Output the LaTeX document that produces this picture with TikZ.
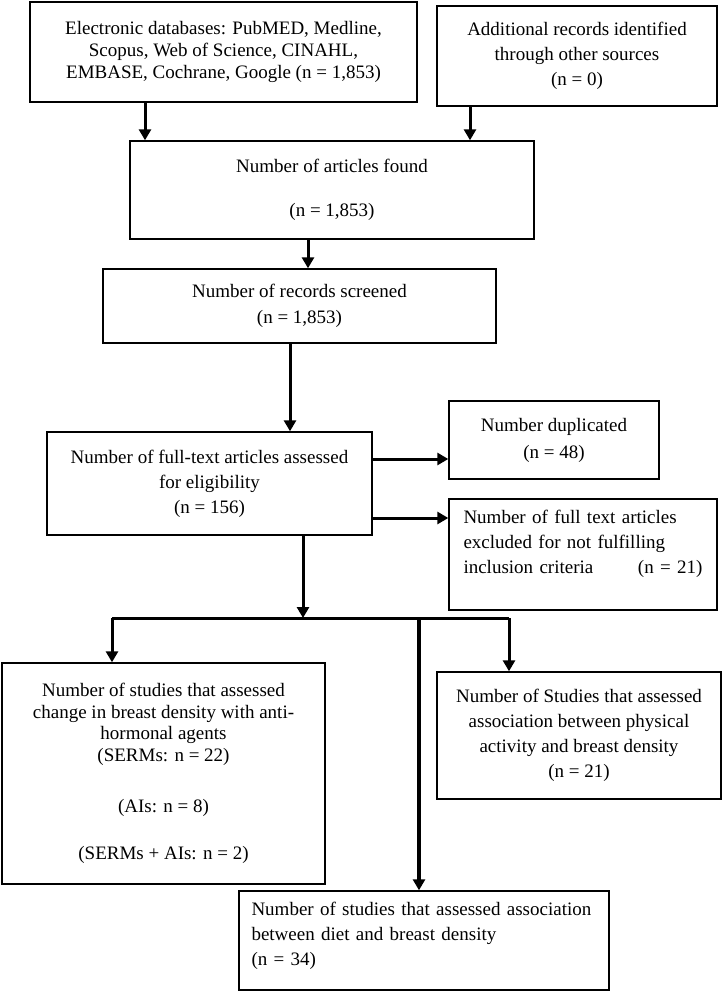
\documentclass[tikz,border=0pt]{standalone}
\usepackage{fontspec}
\setmainfont{Liberation Serif}
\usetikzlibrary{arrows.meta}
\begin{document}
\begin{tikzpicture}[x=1pt,y=-1pt,
    box/.style={draw,line width=1.4pt,inner sep=0pt,align=center,
      font=\fontsize{19}{22}\selectfont},
    arr/.style={line width=3pt,-{Triangle[length=11pt,width=12pt]}}]
    \useasboundingbox (0,0) rectangle (722,992);

    \node[box,minimum width=387,minimum height=100] (db) at (223.5,52)
      {Electronic databases: PubMED, Medline,\\Scopus, Web of Science, CINAHL,\\EMBASE, Cochrane, Google (n = 1,853)};
    \node[box,minimum width=280,minimum height=100,font=\fontsize{19}{25}\selectfont] (other) at (577,56)
      {Additional records identified\\through other sources\\(n = 0)};
    \node[box,minimum width=404,minimum height=98] (found) at (332,190)
      {Number of articles found\\[22pt](n = 1,853)};
    \node[box,minimum width=393,minimum height=74,font=\fontsize{19}{26}\selectfont] (screened) at (299.5,306)
      {Number of records screened\\(n = 1,853)};
    \node[box,minimum width=325,minimum height=103,font=\fontsize{19}{25}\selectfont] (fulltext) at (209.5,483.5)
      {Number of full-text articles assessed\\for eligibility\\(n = 156)};
    \node[box,minimum width=210,minimum height=78,font=\fontsize{19}{27}\selectfont] (dup) at (554,440)
      {Number duplicated\\(n = 48)};
    \node[box,minimum width=268,minimum height=111,align=left,text width=239,font=\fontsize{19}{25}\selectfont] (excl) at (583,554.5)
      {Number of full text articles\\excluded for not fulfilling\\inclusion criteria\hfill(n = 21)\\\mbox{}};
    \node[box,minimum width=323,minimum height=221,font=\fontsize{19}{21.5}\selectfont] (horm) at (163.5,773.5)
      {Number of studies that assessed\\change in breast density with anti-\\hormonal agents\\(SERMs: n = 22)\\[29.5pt](AIs: n = 8)\\[25.5pt](SERMs + AIs: n = 2)};
    \node[box,minimum width=284,minimum height=127,font=\fontsize{19}{25}\selectfont] (phys) at (579,735.5)
      {Number of Studies that assessed\\association between physical\\activity and breast density\\(n = 21)};
    \node[box,minimum width=370,minimum height=99,align=left,text width=345,font=\fontsize{19}{25}\selectfont] (diet) at (424,940.5)
      {Number of studies that assessed association\\between diet and breast density\\(n = 34)\\[-12pt]\mbox{}};

    % arrow columns and the split
    \coordinate (c1) at (145,0);
    \coordinate (c2) at (470,0);
    \coordinate (c3) at (308,0);
    \coordinate (c4) at (290,0);
    \coordinate (split) at (303,618);
    \coordinate (splitL) at (112,618);
    \coordinate (splitM) at (419,618);
    \coordinate (splitR) at (509,618);
    \coordinate (r1) at (0,459);
    \coordinate (r2) at (0,518);

    \draw[arr] (db.south -| c1) -- (found.north -| c1);
    \draw[arr] (other.south -| c2) -- (found.north -| c2);
    \draw[arr] (found.south -| c3) -- (screened.north -| c3);
    \draw[arr] (screened.south -| c4) -- (fulltext.north -| c4);
    \draw[arr] (fulltext.east |- r1) -- (dup.west |- r1);
    \draw[arr] (fulltext.east |- r2) -- (excl.west |- r2);
    \draw[arr] (fulltext.south -| split) -- (split);
    \draw[line width=3pt] (splitL) -- (splitR);
    \draw[arr] (splitL) -- (horm.north -| splitL);
    \draw[arr] (splitR) -- (phys.north -| splitR);
    \draw[arr,line width=4pt] (splitM) -- (diet.north -| splitM);

\end{tikzpicture}
\end{document}
